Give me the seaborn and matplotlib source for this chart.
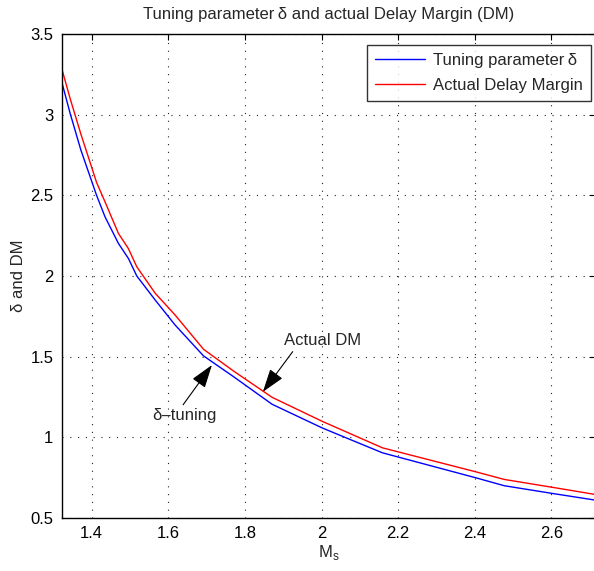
import numpy as np
import pandas as pd
import matplotlib
matplotlib.use("Agg")
import matplotlib.pyplot as plt
from matplotlib.ticker import FuncFormatter
import seaborn as sns

sns.set_style("white")
plt.rcParams['font.family'] = ['Liberation Sans', 'DejaVu Sans']

# values
ms = [1.322, 1.344, 1.372, 1.413, 1.435, 1.470, 1.496, 1.518, 1.566, 1.618,
      1.692, 1.771, 1.871, 2.002, 2.159, 2.403, 2.477, 2.603, 2.714]
delta_tuning = [3.204, 3.008, 2.781, 2.500, 2.367, 2.202, 2.109, 2.000, 1.851, 1.696,
                1.505, 1.375, 1.205, 1.058, 0.904, 0.749, 0.700, 0.652, 0.611]
actual_dm = [3.287, 3.100, 2.880, 2.580, 2.460, 2.264, 2.170, 2.057, 1.893, 1.758,
             1.546, 1.410, 1.248, 1.099, 0.935, 0.786, 0.739, 0.690, 0.646]
x_ticks = [1.4, 1.6, 1.8, 2.0, 2.2, 2.4, 2.6]
y_ticks = [0.5, 1.0, 1.5, 2.0, 2.5, 3.0, 3.5]

df = pd.DataFrame({"Ms": ms, "delta": delta_tuning, "dm": actual_dm})

fig = plt.figure(figsize=(5.94, 5.71), dpi=100)
ax = fig.add_axes([61.7 / 594, 53 / 571, (595.5 - 61.7) / 594, 484 / 571])

sns.lineplot(data=df, x="Ms", y="delta", color="blue", linewidth=1.0,
             label="Tuning parameter\u2009\u03b4", sort=False, estimator=None, ax=ax)
sns.lineplot(data=df, x="Ms", y="dm", color="red", linewidth=1.0,
             label="Actual Delay Margin", sort=False, estimator=None, ax=ax)

ax.set_xlim(1.322, 2.715)
ax.set_ylim(0.5, 3.5)
ax.set_xticks(x_ticks)
ax.set_yticks(y_ticks)
fmt = FuncFormatter(lambda v, p: "%g" % v)
ax.xaxis.set_major_formatter(fmt)
ax.yaxis.set_major_formatter(fmt)
ax.tick_params(direction="in", length=4, width=0.8, top=True, right=True,
               labelsize=12, colors="black", pad=6)
for s in ax.spines.values():
    s.set_color("black")
    s.set_linewidth(1.0)

ax.grid(True, linestyle=(0, (1, 6)), color="#222222", linewidth=0.8)

ax.set_title("Tuning parameter\u2009\u03b4 and actual Delay Margin (DM)", fontsize=12, pad=11)
ax.set_xlabel("M$_\\mathregular{s}$", fontsize=12, labelpad=1)
ax.set_ylabel("\u03b4 and DM", fontsize=12, labelpad=3)

leg = ax.legend(loc="upper right", bbox_to_anchor=(0.9925, 0.978), fontsize=12,
                frameon=True, fancybox=False, handlelength=3.0, handletextpad=0.5,
                borderpad=0.5, labelspacing=0.6, borderaxespad=0)
leg.get_frame().set_edgecolor("black")
leg.get_frame().set_linewidth(1.0)

arrow_kw = dict(arrowstyle="-|>,head_length=1.2,head_width=0.4", color="black",
                lw=0.8, shrinkA=0, shrinkB=0)
ax.annotate("Actual DM", xy=(1.847, 1.282), xytext=(1.901, 1.598),
            fontsize=12, va="center", ha="left",
            arrowprops=dict(arrow_kw, relpos=(0.15, 0.0)))
ax.annotate("\u03b4\u2013tuning", xy=(1.714, 1.448), xytext=(1.557, 1.135),
            fontsize=12, va="center", ha="left",
            arrowprops=dict(arrow_kw, relpos=(0.45, 1.0)))

fig.savefig("out.png", dpi=100)
